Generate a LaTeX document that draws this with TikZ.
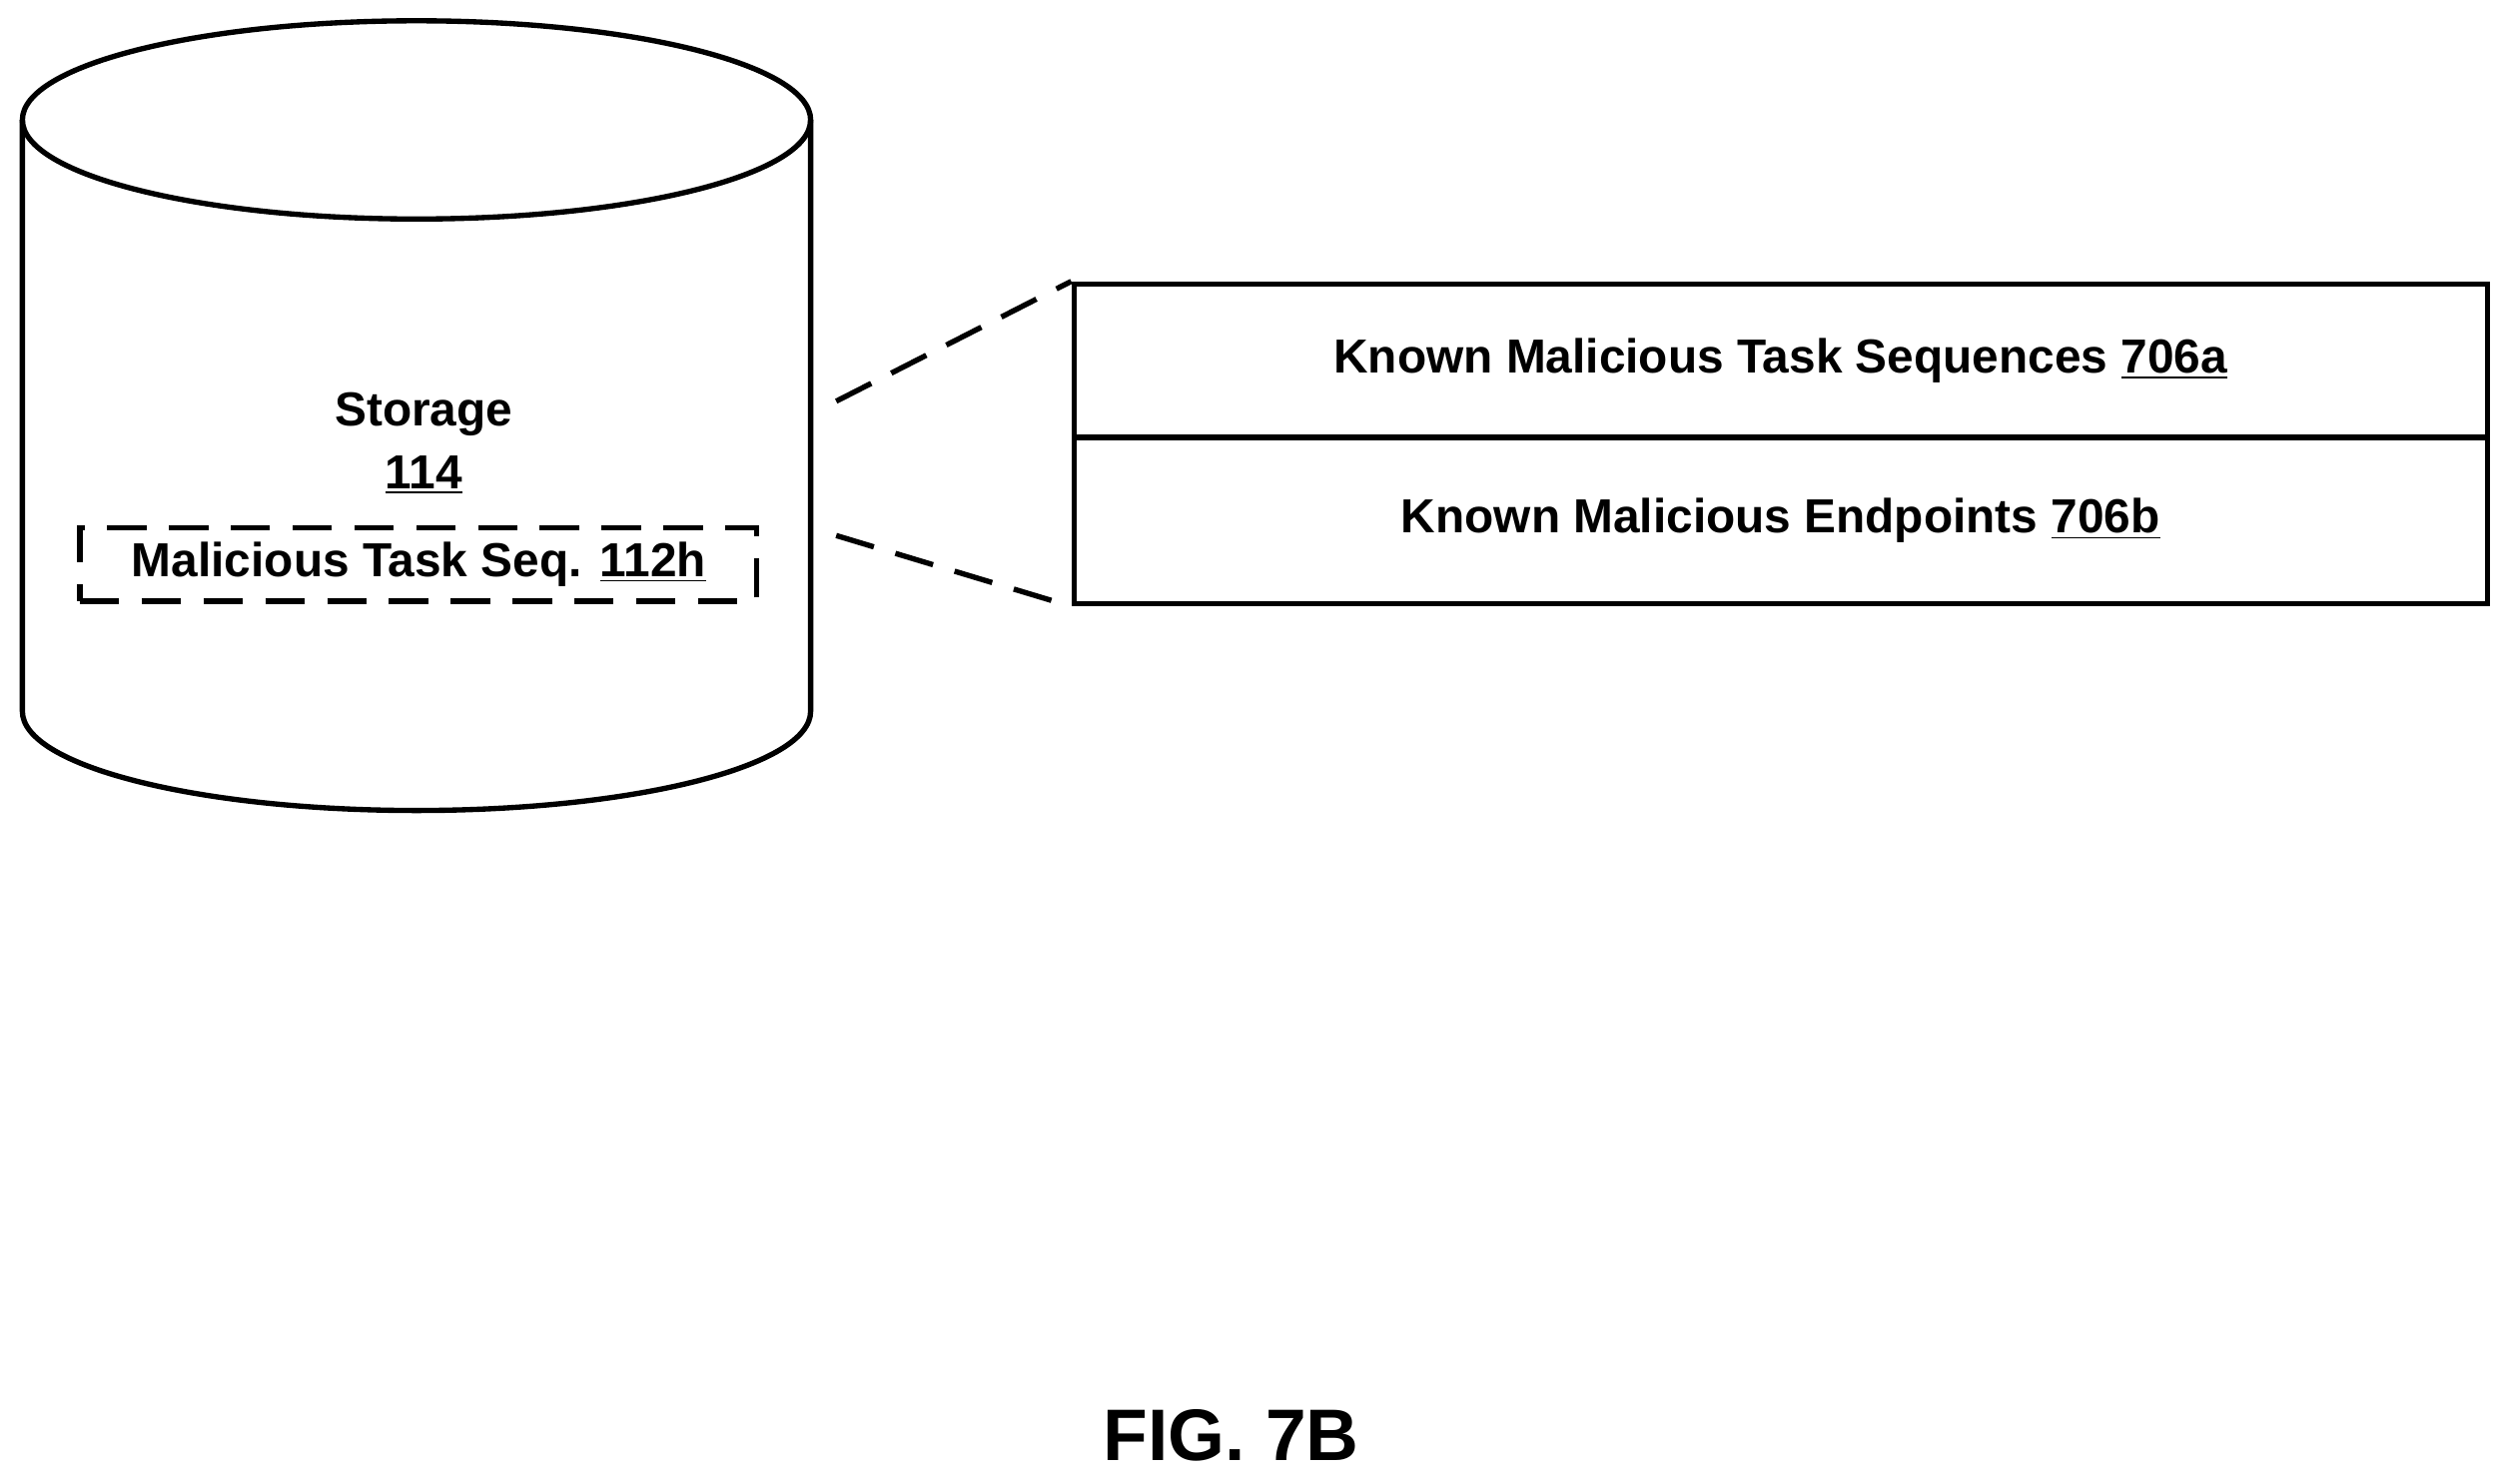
\documentclass[tikz,border=0pt]{standalone}
\usepackage{fontspec}
\setmainfont{Liberation Sans}
\begin{document}
\begin{tikzpicture}[x=0.02cm,y=-0.02cm,line width=1.9pt,
  lbl/.style={font=\fontsize{17}{20}\selectfont\bfseries,inner sep=0pt},
  dsh/.style={dash pattern=on 14pt off 8pt}]
\useasboundingbox (0,0) rectangle (1568,928);
% cylinder
\draw[fill=white] (14,75) -- (14,445) arc[start angle=180,end angle=0,x radius=246.5,y radius=62] -- (507,75);
\draw (260.5,75) ellipse [x radius=246.5,y radius=62];
\node[lbl] (st) at (265,259) {Storage};
\node[lbl] (sn) at (265,297) {\underline{114}};
\node[draw,dsh,minimum width=423*0.02cm,minimum height=46*0.02cm,inner sep=0pt] (mb) at (261.5,353) {};
\node[lbl] (mt) at (262,353) {Malicious Task Seq. \underline{112h}};
% boxes
\node[draw,minimum width=884*0.02cm,minimum height=96*0.02cm,inner sep=0pt,anchor=north west] (b1) at (670,176) {};
\node[draw,minimum width=884*0.02cm,minimum height=104*0.02cm,inner sep=0pt,anchor=north west] (b2) at (670,272) {};
\node[lbl] (t1) at (b1.center) {Known Malicious Task Sequences \underline{706a}};
\node[lbl] (t2) at (b2.center) {Known Malicious Endpoints \underline{706b}};
\coordinate (c1) at (523,251);
\coordinate (c2) at (523,335);
\draw[dsh] (c1) -- (b1.north west);
\draw[dsh] (c2) -- (b2.south west);
\node[font=\fontsize{26}{30}\selectfont\bfseries,inner sep=0pt] (fig) at (770,898) {FIG. 7B};
\end{tikzpicture}
\end{document}
